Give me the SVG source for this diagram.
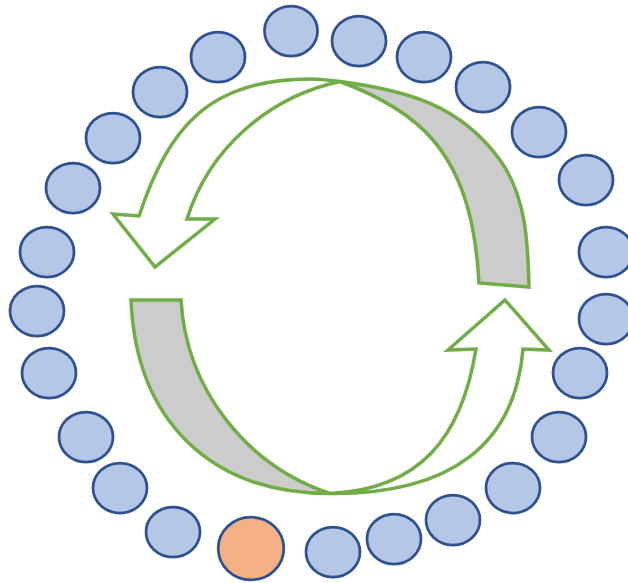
<svg xmlns="http://www.w3.org/2000/svg" width="628" height="583" viewBox="0 0 628 583">
<style>
.n{fill:#B4C7E7;stroke:#2F528F;stroke-width:2.75}
.o{fill:#F4B183;stroke:#2F528F;stroke-width:2.75}
.g{fill:#CCCCCC;stroke:#70AD47;stroke-width:3.5;stroke-linejoin:miter}
.w{fill:#FFFFFF;stroke:#70AD47;stroke-width:3.5;stroke-linejoin:miter}
</style>
<rect width="628" height="583" fill="#FFFFFF"/>
<g id="nodes">
<g id="n1"><ellipse class="n" cx="291" cy="31" rx="26.5" ry="25"/></g>
<g id="n2"><ellipse class="n" cx="359" cy="41" rx="27" ry="25"/></g>
<g id="n3"><ellipse class="n" cx="424" cy="57" rx="27" ry="25"/></g>
<g id="n4"><ellipse class="n" cx="483" cy="87" rx="27" ry="25"/></g>
<g id="n5"><ellipse class="n" cx="539" cy="132" rx="27" ry="25"/></g>
<g id="n6"><ellipse class="n" cx="586" cy="180" rx="27" ry="25"/></g>
<g id="n7"><ellipse class="n" cx="606" cy="252" rx="27" ry="25"/></g>
<g id="n8"><ellipse class="n" cx="606" cy="319" rx="27" ry="25"/></g>
<g id="n9"><ellipse class="n" cx="580" cy="373" rx="27" ry="25"/></g>
<g id="n10"><ellipse class="n" cx="559" cy="437" rx="27" ry="25"/></g>
<g id="n11"><ellipse class="n" cx="513" cy="488" rx="27" ry="25"/></g>
<g id="n12"><ellipse class="n" cx="453" cy="520" rx="27" ry="25"/></g>
<g id="n13"><ellipse class="n" cx="394" cy="539" rx="27" ry="25"/></g>
<g id="n14"><ellipse class="n" cx="333" cy="552" rx="27" ry="25"/></g>
<g id="n15"><ellipse class="o" cx="251" cy="548.5" rx="32.8" ry="31.3"/></g>
<g id="n16"><ellipse class="n" cx="173" cy="532" rx="27" ry="25"/></g>
<g id="n17"><ellipse class="n" cx="120" cy="488" rx="27" ry="25"/></g>
<g id="n18"><ellipse class="n" cx="86" cy="437" rx="27" ry="25"/></g>
<g id="n19"><ellipse class="n" cx="49" cy="373" rx="27" ry="25"/></g>
<g id="n20"><ellipse class="n" cx="37" cy="311" rx="27" ry="25"/></g>
<g id="n21"><ellipse class="n" cx="47" cy="252" rx="27" ry="25"/></g>
<g id="n22"><ellipse class="n" cx="73" cy="188" rx="27" ry="25"/></g>
<g id="n23"><ellipse class="n" cx="113" cy="138" rx="27" ry="25"/></g>
<g id="n24"><ellipse class="n" cx="160" cy="92" rx="27" ry="25"/></g>
<g id="n25"><ellipse class="n" cx="218" cy="57" rx="27" ry="25"/></g>
</g>
<g id="connectors">
<g id="arrow-top">
<path class="g" d="M340,81.5 C407,90.3 460,105 500,160 C526,196 528,242.7 529,287 L479,283 C476.2,231.7 466.4,179.1 433,140 C408.8,111.7 375,94.5 340,81.5 Z"/>
<path class="w" d="M139,216 C169,126 210,79 310,79 C320,79 330,80.2 340,81.5 C268,97 209,149 187,219 L215,219 L155,267 L113,214 Z"/>
</g>
<g id="arrow-bottom">
<path class="g" d="M131,300 C136,420 210,493.5 330,493.5 C245.4,465 186.3,389 181,300 Z"/>
<path class="w" d="M330,493.5 C450,494.5 515,445 523,349 L549,350 L505,300 L448,350 L476,349 C461.6,438 420,489 330,493.5 Z"/>
</g>
</g>
</svg>
